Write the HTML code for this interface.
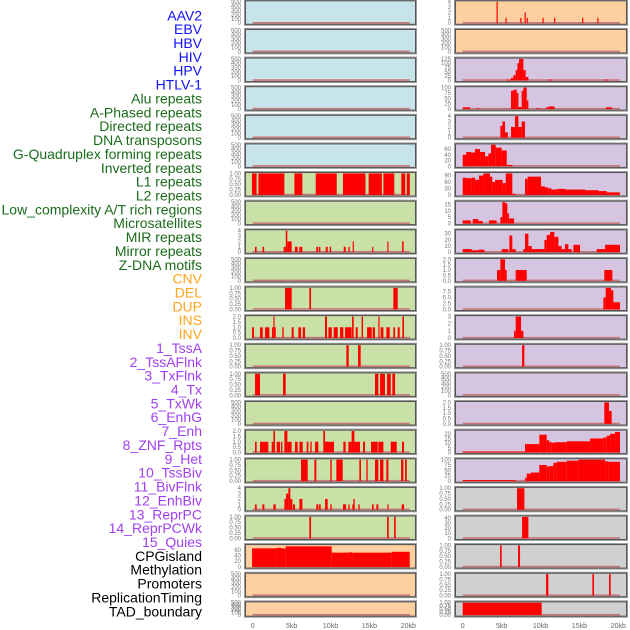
<!DOCTYPE html>
<html><head><meta charset="utf-8">
<style>
html,body{margin:0;padding:0;background:#fff;}
svg{display:block;font-family:"Liberation Sans",sans-serif;}
</style></head>
<body>
<svg id="chart" width="630" height="630" viewBox="0 0 630 630" xmlns="http://www.w3.org/2000/svg"></svg>
<script>
const trackNames = ["AAV2","EBV","HBV","HIV","HPV","HTLV-1","Alu repeats","A-Phased repeats","Directed repeats","DNA transposons","G-Quadruplex forming repeats","Inverted repeats","L1 repeats","L2 repeats","Low_complexity A/T rich regions","Microsatellites","MIR repeats","Mirror repeats","Z-DNA motifs","CNV","DEL","DUP","INS","INV","1_TssA","2_TssAFlnk","3_TxFlnk","4_Tx","5_TxWk","6_EnhG","7_Enh","8_ZNF_Rpts","9_Het","10_TssBiv","11_BivFlnk","12_EnhBiv","13_ReprPC","14_ReprPCWk","15_Quies","CPGisland","Methylation","Promoters","ReplicationTiming","TAD_boundary"];
const labelColors = ["#1010ff","#1010ff","#1010ff","#1010ff","#1010ff","#1010ff","#1b6b1b","#1b6b1b","#1b6b1b","#1b6b1b","#1b6b1b","#1b6b1b","#1b6b1b","#1b6b1b","#1b6b1b","#1b6b1b","#1b6b1b","#1b6b1b","#1b6b1b","#ffa520","#ffa520","#ffa520","#ffa520","#ffa520","#a040f0","#a040f0","#a040f0","#a040f0","#a040f0","#a040f0","#a040f0","#a040f0","#a040f0","#a040f0","#a040f0","#a040f0","#a040f0","#a040f0","#a040f0","#000","#000","#000","#000","#000"];
const xTickValues = [0,5,10,15,20];
const xTickLabels = ["0","5kb","10kb","15kb","20kb"];
const EMPTY = [0,100,200,300,400,500];
const U1 = [0,0.25,0.5,0.75,1];
const panelCols = ["L","L","L","L","L","L","L","L","L","L","L","L","L","L","L","L","L","L","L","L","L","L","R","R","R","R","R","R","R","R","R","R","R","R","R","R","R","R","R","R","R","R","R","R"];
const panelBgs = ["#c8e4eb","#c8e4eb","#c8e4eb","#c8e4eb","#c8e4eb","#c8e4eb","#c9e1a6","#c9e1a6","#c9e1a6","#c9e1a6","#c9e1a6","#c9e1a6","#c9e1a6","#c9e1a6","#c9e1a6","#c9e1a6","#c9e1a6","#c9e1a6","#c9e1a6","#fed09f","#fed09f","#fed09f",
 "#fed09f","#fed09f","#d5c5e1","#d5c5e1","#d5c5e1","#d5c5e1","#d5c5e1","#d5c5e1","#d5c5e1","#d5c5e1","#d5c5e1","#d5c5e1","#d5c5e1","#d5c5e1","#d5c5e1","#d5c5e1","#d5c5e1","#d0d0d0","#d0d0d0","#d0d0d0","#d0d0d0","#d0d0d0"];
const panelTicks = [EMPTY,EMPTY,EMPTY,EMPTY,EMPTY,EMPTY,U1,EMPTY,[0,1,2,3,4],EMPTY,U1,[0,0.5,1,1.5,2],U1,U1,EMPTY,[0,0.5,1,1.5,2],U1,[0,1,2,3,4],U1,[0,20,40,60],EMPTY,EMPTY,
 [0,1,2,3,4],EMPTY,[0,25,50,75,100,125],[0,25,50,75,100],[0,1,2,3,4],[0,20,40,60],[0,30,60,90],[0,5,10,15],[0,10,20,30],[0,0.5,1,1.5,2],[0,2.5,5,7.5],[0,1,2,3],U1,EMPTY,[0,0.5,1,1.5,2],[0,5,10,15,20],[0,25,50,75,100],U1,[0,10,20,30,40],U1,U1,U1];
const panelYMax = [500,500,500,500,500,500,1,500,4,500,1,2,1,1,500,2,1,4,1,75,500,500,
 4,500,125,100,4,75,100,17,35,2,9,3,1,500,2,23,100,1,42,1,1,1];
const panelSegs = [
 [],[],[],[],[],[],
 [[-0.1,0.5,1],[0.73,4.07,1],[5.36,6.38,1],[8.1,10.8,1],[11.6,14.5,1],[14.9,16.6,1],[16.8,18.2,1],[19.1,19.6,1],[19.8,20.2,1]],
 [],
 [[0.3,0.5,1],[1.27,1.47,1],[3.98,4.25,1],[4.25,4.45,4],[4.45,5.01,2],[5.44,5.78,1],[6.0,6.38,1],[8.18,8.4,1],[8.5,8.7,1],[9.38,9.64,1],[9.9,10.08,1],[11.7,11.95,1],[12.3,12.47,1],[12.85,13.0,2],[15.35,15.5,1],[17.3,17.45,2],[19.2,19.4,2]],
 [],
 [[4.16,5.01,1],[7.28,7.5,1],[18.08,18.64,1]],
 [[-0.08,0.17,1],[0.94,1.29,1],[1.59,2.14,1],[2.48,2.66,1],[2.66,2.78,2],[2.78,2.96,1],[3.81,3.98,1],[5.01,5.27,1],[5.87,6.21,1],[6.43,6.73,1],[9.3,9.55,2],[9.73,10.16,1],[10.41,10.93,1],[11.23,11.65,1],[11.87,12.72,1],[12.77,12.98,2],[13.24,13.5,1],[14.0,14.18,2],[14.7,15.3,1],[15.42,15.72,1],[16.15,16.28,2],[16.45,16.8,1],[17.18,17.61,1],[18.08,18.3,1],[18.64,18.9,1],[19.24,19.45,2]],
 [[12.04,12.34,1],[13.54,13.88,1]],
 [[0.3,0.94,1],[3.9,4.24,1],[15.72,16.15,1],[16.37,17.0,1],[17.27,17.74,1],[17.95,18.3,1]],
 [],
 [[0.3,0.51,1],[0.94,2.01,1],[2.44,2.66,1],[2.66,2.87,2],[3.08,3.51,1],[3.64,3.81,1],[4.07,4.46,2],[4.46,5.01,1],[5.44,5.78,1],[6.0,6.43,1],[6.94,7.16,1],[7.41,7.58,1],[8.01,8.44,1],[9.08,9.3,2],[9.3,10.45,1],[11.65,11.95,1],[12.3,12.72,1],[12.72,13.07,2],[13.07,13.8,1],[14.18,14.44,1],[15.21,16.07,1],[16.15,16.8,1],[17.74,18.51,1],[19.19,19.45,1]],
 [[6.21,7.07,1],[7.93,8.18,1],[9.98,10.16,1],[10.75,11.57,1],[13.71,13.92,1],[14.61,14.78,1],[15.72,16.15,1],[16.37,16.8,1],[17.18,17.44,1],[19.07,19.37,1],[19.58,19.8,1]],
 [[0.3,0.51,1],[1.24,1.5,1],[2.66,2.96,1],[4.07,4.29,2],[4.29,4.58,3],[4.58,4.84,4],[4.84,5.1,2],[5.18,5.44,1],[6.0,6.38,2],[8.18,8.44,1],[8.53,8.74,1],[9.3,9.64,2],[9.98,10.16,1],[11.61,12.0,1],[12.3,12.47,1],[12.81,12.94,1],[12.94,13.11,2],[13.58,13.75,1],[15.34,15.55,1],[15.9,16.15,1],[17.31,17.44,1],[19.15,19.45,1]],
 [[7.28,7.5,1],[17.27,17.48,1],[18.17,18.38,1]],
 [[-0.08,3.07,65],[3.07,3.64,67],[3.64,4.24,65],[4.24,10.15,72],[10.15,12.38,50],[12.38,12.77,51],[12.77,17.87,50],[17.87,20.18,53]],
 [],[],
 [[4.35,4.47,4],[5.5,5.65,1],[7.4,7.52,1],[7.95,8.07,2],[8.22,8.34,1],[10.25,10.37,1],[11.75,11.87,1],[15.35,15.47,1],[17.3,17.42,1]],
 [],
 [[5.57,6.21,5],[6.21,6.51,15],[6.51,6.81,30],[6.81,7.03,60],[7.03,7.24,100],[7.24,7.8,125],[7.8,8.1,60],[8.1,8.44,20],[11.0,11.44,5],[18.2,18.6,5]],
 [[0,0.94,8],[1.8,2.14,4],[6.21,6.51,85],[6.51,6.94,90],[6.94,7.16,75],[7.16,7.58,10],[7.58,7.8,85],[7.8,8.23,100],[8.23,8.44,40],[9.43,9.94,3],[10.7,11.05,8],[11.05,11.8,12],[18.4,19.2,8]],
 [[4.84,5.1,2.2],[5.1,5.44,3],[5.44,5.8,1],[6.21,6.72,2],[6.72,7.16,4],[7.16,7.58,2],[7.58,8.0,3]],
 [[0,0.43,40],[0.43,1.07,50],[1.07,1.58,48],[1.58,2.23,60],[2.23,2.87,50],[2.87,3.3,35],[3.3,3.64,45],[3.64,4.24,75],[4.24,5.01,65],[5.01,5.66,55],[5.66,6.4,5]],
 [[0,0.43,80],[0.43,1.16,78],[1.16,1.59,80],[1.59,2.1,70],[2.1,2.66,90],[2.66,3.51,100],[3.51,3.81,85],[3.81,4.16,60],[4.16,5.14,70],[5.14,5.53,55],[5.53,6.38,100],[6.38,6.81,5],[8.01,8.35,75],[8.35,10.07,85],[10.07,10.58,40],[10.58,11.01,35],[11.01,11.44,30],[11.44,12.08,25],[12.08,13.15,28],[13.15,15.72,25],[15.72,17.44,22],[17.44,18.51,18],[18.51,20.2,12]],
 [[0,1.03,2.5],[1.29,2.01,3.5],[2.01,2.57,2],[3.38,4.37,2.5],[4.84,5.1,5],[5.1,5.44,17],[5.44,5.74,16],[5.74,5.96,8],[5.96,6.6,4]],
 [[0,1.16,5],[1.16,2.0,3],[2.0,2.8,4],[5.01,5.87,5],[6.0,6.38,27],[6.38,6.81,5],[7.8,8.01,5],[8.01,8.44,30],[8.44,8.87,10],[8.87,10.5,5],[10.5,10.8,20],[10.8,11.23,28],[11.23,11.78,33],[11.78,12.3,25],[12.3,12.72,10],[12.72,13.15,5],[13.15,13.58,13],[13.58,14.0,5],[14.22,15.08,12],[17.22,18.3,5],[18.3,20.22,12]],
 [[4.41,4.84,1],[4.84,5.44,2],[5.44,5.66,1],[6.81,8.23,1],[18.2,19.24,1]],
 [[18.08,18.38,5],[18.38,19.07,9],[19.07,19.37,8],[19.37,20.22,3]],
 [[6.6,6.81,1],[6.81,7.5,3],[7.5,7.8,1]],
 [[7.63,7.93,1]],
 [],
 [[18.2,18.8,2],[18.8,19.15,1.2]],
 [[0,8.01,1],[8.01,9.85,9],[9.85,10.8,19],[10.8,11.14,13],[11.14,11.44,11],[11.44,11.87,10.5],[11.87,13.37,11],[13.37,16.37,12],[16.37,18.08,15],[18.08,18.51,16],[18.51,18.94,18],[18.94,19.58,20],[19.58,20.22,22]],
 [[0,6.81,5],[8.01,8.23,15],[8.23,8.78,35],[8.78,9.85,40],[9.85,10.8,75],[10.8,11.14,68],[11.14,11.65,70],[11.65,12.08,85],[12.08,13.37,90],[13.37,14.87,95],[14.87,18.3,100],[18.3,18.72,92],[18.72,20.22,90]],
 [[6.98,7.93,1]],
 [[7.63,8.44,42]],
 [[4.8,5.01,1],[7.11,7.37,1]],
 [[10.71,11.01,1],[16.67,16.88,1],[18.81,19.02,1]],
 [[0,10.15,1]]
];
const panelRows = [0,1,2,3,4,5,6,7,8,9,10,11,12,13,14,15,16,17,18,19,20,21,0,1,2,3,4,5,6,7,8,9,10,11,12,13,14,15,16,17,18,19,20,21];

const NS = "http://www.w3.org/2000/svg";
const svg = document.getElementById("chart");
function mk(tag, attrs, parent){
  const e = document.createElementNS(NS, tag);
  for (const k in attrs) e.setAttribute(k, attrs[k]);
  (parent||svg).appendChild(e);
  return e;
}
const COLS = {L:{x0:245,x1:416,z:252.7}, R:{x0:455,x1:627,z:462.7}};
const KB = 7.78;
function xScale(col, kb){ return COLS[col].z + kb*KB; }
function fmt(v, ticks){
  const frac = ticks.some(t => t%1!==0);
  if(!frac) return String(v);
  const dec = ticks.some(t => Math.round(t*100)%10!==0) ? 2 : 1;
  return v.toFixed(dec);
}

trackNames.forEach((n,i)=>{
  const t = mk("text",{x:202, y:(15.3+i*13.86+5).toFixed(1), "text-anchor":"end", "font-size":"14", fill:labelColors[i]});
  
  
  t.textContent = n;
});

panelSegs.forEach((segs,i)=>{
  const col = panelCols[i], row = panelRows[i];
  const c = COLS[col];
  const top = 0.3 + row*28.62;
  const h = row===21 ? 15.4 : 24.5;
  const base = top + h - 1.6;
  const ph = h - 3;
  const ymax = panelYMax[i];
  const ticks = panelTicks[i];
  const yS = v => base - v/ymax*ph;
  const g = mk("g",{});
  
  
  const bg = mk("rect",{x:c.x0, y:top, width:c.x1-c.x0, height:h, fill:panelBgs[i], stroke:"#999", "stroke-width":"2"}, g);
  
  
  const base0 = mk("rect",{x:xScale(col,0), y:base-1.2, width:20.2*KB, height:1.6, fill:"#c87878"}, g);
  
  
  segs.forEach(s=>{
    const x0 = xScale(col,s[0]), x1 = xScale(col,s[1]);
    const r = mk("rect",{x:x0.toFixed(2), y:yS(s[2]).toFixed(2), width:Math.max(1.2,x1-x0).toFixed(2), height:(base-yS(s[2])).toFixed(2), fill:"#ff0000"}, g);
    
    
  });
  mk("rect",{x:c.x0+0.5, y:top+0.5, width:c.x1-c.x0-1, height:h-1, fill:"none", stroke:"#555", "stroke-width":"1"}, g);
  ticks.forEach(v=>{
    const t = mk("text",{x:c.x0-4, y:(yS(v)+2).toFixed(1), "text-anchor":"end", "font-size":"6", fill:"#777"}, g);
    
    
    t.textContent = fmt(v, ticks);
  });
});

["L","R"].forEach(col=>{
  xTickValues.forEach((v,j)=>{
    const t = mk("text",{x:xScale(col,v).toFixed(1), y:628, "text-anchor":"middle", "font-size":"7", fill:"#666"});
    
    
    t.textContent = xTickLabels[j];
  });
});
</script>
</body></html>
